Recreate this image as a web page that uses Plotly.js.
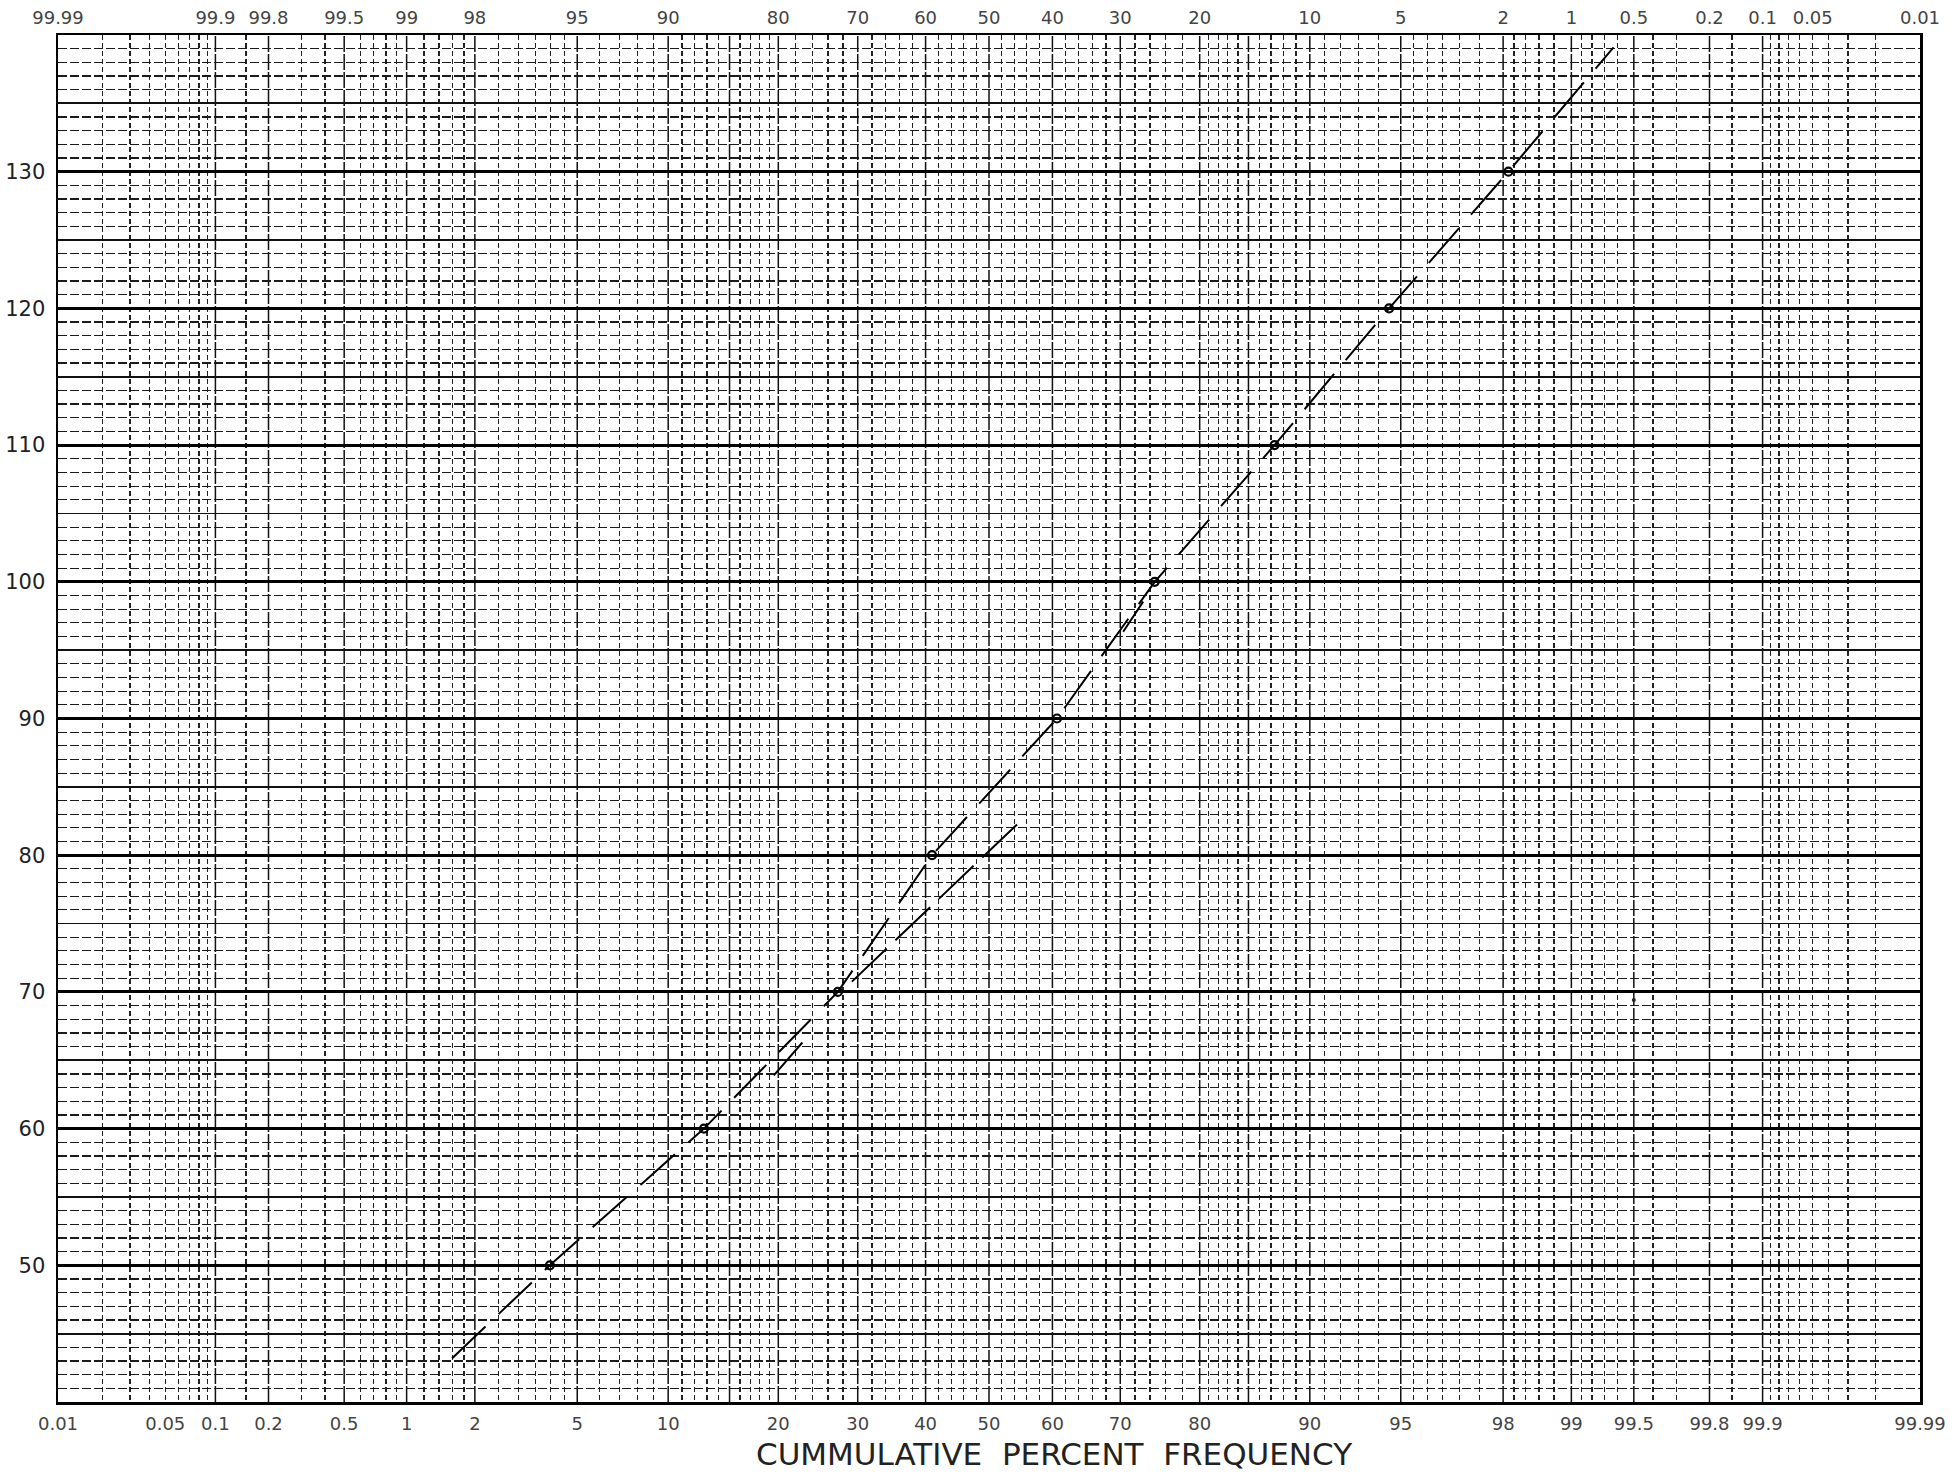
<!DOCTYPE html>
<html>
<head>
<meta charset="utf-8">
<script src="https://cdn.plot.ly/plotly-3.0.1.min.js"></script>
<style>html,body{margin:0;padding:0;background:#fff;}#chart{width:1956px;height:1478px;}</style>
</head>
<body>
<div id="chart"></div>
<script>
// ---- data (cumulative percent frequency vs value) ----
const pointPct = [3.97, 12.74, 27.3, 41.0, 60.7, 74.6, 87.3, 94.5, 98.1];
const pointVal = [50, 60, 70, 80, 90, 100, 110, 120, 130];

// hand-drawn dashed line through the points
const fitPct = [1.6, 3.97, 12.74, 27.3, 41.0, 60.7, 74.6, 87.3, 94.5, 98.1, 99.37];
const fitVal = [43.2, 50, 60, 70, 80, 90, 100, 110, 120, 130, 139.1];

// second (parallel) pencil line between 70 and 83
const fit2Pct = [29.2, 55.7];
const fit2Val = [70.75, 82.8];

// short extra pencil strokes
const strokeAPct = [19.5, 22.8];
const strokeAVal = [63.9, 66.3];
const strokeBPct = [70.4, 73.1];
const strokeBVal = [96.35, 98.55];

// stray dot
const dotPct = [99.5];
const dotVal = [69.4];

// ---- axis ticks ----
const bottomTickPct = [0.01, 0.05, 0.1, 0.2, 0.5, 1, 2, 5, 10, 20, 30, 40, 50, 60, 70, 80, 90, 95, 98, 99, 99.5, 99.8, 99.9, 99.99];
const bottomTickText = ['0.01', '0.05', '0.1', '0.2', '0.5', '1', '2', '5', '10', '20', '30', '40', '50', '60', '70', '80', '90', '95', '98', '99', '99.5', '99.8', '99.9', '99.99'];
const topTickPct = [0.01, 0.1, 0.2, 0.5, 1, 2, 5, 10, 20, 30, 40, 50, 60, 70, 80, 90, 95, 98, 99, 99.5, 99.8, 99.9, 99.95, 99.99];
const topTickText = ['99.99', '99.9', '99.8', '99.5', '99', '98', '95', '90', '80', '70', '60', '50', '40', '30', '20', '10', '5', '2', '1', '0.5', '0.2', '0.1', '0.05', '0.01'];

const yTickVals = [50, 60, 70, 80, 90, 100, 110, 120, 130];
const yTickText = ['50', '60', '70', '80', '90', '100', '110', '120', '130'];
const yMidVals = [45, 55, 65, 75, 85, 95, 105, 115, 125, 135];
const yRange = [40, 140];

// probability-paper rulings (lower half; upper half mirrored)
const heavyPctLow = [0.1, 0.2, 0.5, 1, 2, 5, 10, 15, 20, 30, 40, 50];
const lightPctLow = [0.02, 0.03, 0.04, 0.05, 0.06, 0.07, 0.08, 0.09, 0.15, 0.3, 0.4, 0.6, 0.7, 0.8, 0.9,
  1.2, 1.4, 1.6, 1.8, 2.5, 3, 3.5, 4, 4.5, 6, 7, 8, 9, 11, 12, 13, 14, 16, 17, 18, 19,
  22, 24, 26, 28, 32, 34, 36, 38, 42, 44, 46, 48];

// ---- normal probability scale ----
function probit(p) {
  const a=[-3.969683028665376e+01,2.209460984245205e+02,-2.759285104469687e+02,1.383577518672690e+02,-3.066479806614716e+01,2.506628277459239e+00];
  const b=[-5.447609879822406e+01,1.615858368580409e+02,-1.556989798598866e+02,6.680131188771972e+01,-1.328068155288572e+01];
  const c=[-7.784894002430293e-03,-3.223964580411365e-01,-2.400758277161838e+00,-2.549732539343734e+00,4.374664141464968e+00,2.938163982698783e+00];
  const d=[7.784695709041462e-03,3.224671290700398e-01,2.445134137142996e+00,3.754408661907416e+00];
  const pl=0.02425, ph=1-pl; let q, r;
  if (p < pl) { q=Math.sqrt(-2*Math.log(p)); return (((((c[0]*q+c[1])*q+c[2])*q+c[3])*q+c[4])*q+c[5])/((((d[0]*q+d[1])*q+d[2])*q+d[3])*q+1); }
  if (p <= ph) { q=p-0.5; r=q*q; return (((((a[0]*r+a[1])*r+a[2])*r+a[3])*r+a[4])*r+a[5])*q/(((((b[0]*r+b[1])*r+b[2])*r+b[3])*r+b[4])*r+1); }
  q=Math.sqrt(-2*Math.log(1-p)); return -(((((c[0]*q+c[1])*q+c[2])*q+c[3])*q+c[4])*q+c[5])/((((d[0]*q+d[1])*q+d[2])*q+d[3])*q+1);
}
const Z = pct => probit(pct / 100);
const mirror = arr => arr.concat(arr.filter(p => p !== 50).map(p => 100 - p));

const xRange = [Z(0.01), Z(99.99)];
const heavyZ = mirror(heavyPctLow).map(Z);
const lightZ = mirror(lightPctLow).map(Z);

const tickFont = {family: 'DejaVu Sans, Liberation Sans, sans-serif', size: 18, color: '#444'};

const traces = [
  {x: fitPct.map(Z), y: fitVal, mode: 'lines', xaxis: 'x', yaxis: 'y',
   line: {color: '#000', width: 2, dash: '46px,18px'}, hoverinfo: 'skip', showlegend: false},
  {x: fit2Pct.map(Z), y: fit2Val, mode: 'lines', xaxis: 'x', yaxis: 'y',
   line: {color: '#000', width: 2, dash: '48px,12px'}, hoverinfo: 'skip', showlegend: false},
  {x: strokeAPct.map(Z), y: strokeAVal, mode: 'lines', line: {color: '#000', width: 2}, hoverinfo: 'skip', showlegend: false},
  {x: strokeBPct.map(Z), y: strokeBVal, mode: 'lines', line: {color: '#000', width: 2}, hoverinfo: 'skip', showlegend: false},
  {x: pointPct.map(Z), y: pointVal, mode: 'markers', xaxis: 'x', yaxis: 'y',
   marker: {symbol: 'circle-open', size: 8, color: '#000', line: {width: 2.2, color: '#000'}},
   text: pointPct.map(p => p + '%'), showlegend: false},
  {x: dotPct.map(Z), y: dotVal, mode: 'markers', marker: {size: 4, color: '#222'}, hoverinfo: 'skip', showlegend: false},
  // carriers for the overlay axes (invisible)
  {x: pointPct.map(Z), y: pointVal, mode: 'markers', xaxis: 'x2', yaxis: 'y',
   marker: {opacity: 0}, hoverinfo: 'skip', showlegend: false},
  {x: pointPct.map(Z), y: pointVal, mode: 'markers', xaxis: 'x', yaxis: 'y2',
   marker: {opacity: 0}, hoverinfo: 'skip', showlegend: false}
];

const heavyShapes = heavyZ.map(z => ({
  type: 'line', xref: 'x', yref: 'paper', x0: z, x1: z, y0: 0, y1: 1,
  layer: 'between', line: {color: '#111', width: 1.5, dash: '16px,2px'}
}));

const layout = {
  width: 1956, height: 1478,
  margin: {l: 58, r: 36, t: 35, b: 76, pad: 0},
  paper_bgcolor: '#fff', plot_bgcolor: '#fff',
  showlegend: false,
  xaxis: {
    range: xRange, tickmode: 'array',
    tickvals: bottomTickPct.map(Z), ticktext: bottomTickText,
    ticks: '', ticklabelstandoff: 4, tickfont: tickFont,
    showgrid: false, zeroline: false,
    showline: true, linecolor: '#000', linewidth: 2.5, mirror: true,
    minor: {tickmode: 'array', tickvals: lightZ, ticks: '', showgrid: true,
            gridcolor: '#222', gridwidth: 1.2, griddash: '5px,3px'}
  },
  xaxis2: {
    overlaying: 'x', side: 'top', range: xRange, tickmode: 'array',
    tickvals: topTickPct.map(Z), ticktext: topTickText,
    ticks: '', ticklabelstandoff: 6, tickfont: tickFont,
    showgrid: false, zeroline: false, showline: false
  },
  yaxis: {
    range: yRange, tickmode: 'array', tickvals: yTickVals, ticktext: yTickText,
    ticks: '', ticklabelstandoff: 6,
    tickfont: {family: 'DejaVu Sans, sans-serif', size: 21, color: '#222'},
    showgrid: true, gridcolor: '#000', gridwidth: 3, zeroline: false,
    showline: true, linecolor: '#000', linewidth: 2.5, mirror: true,
    minor: {tickmode: 'linear', tick0: 40, dtick: 1, ticks: '', showgrid: true,
            gridcolor: '#1a1a1a', gridwidth: 1.2, griddash: '9px,3px'}
  },
  yaxis2: {
    overlaying: 'y', range: yRange, tickmode: 'array', tickvals: yMidVals,
    showticklabels: false, ticks: '', zeroline: false, showline: false,
    showgrid: true, gridcolor: '#111', gridwidth: 1.8
  },
  shapes: heavyShapes,
  annotations: [{
    text: 'CUMMULATIVE  PERCENT  FREQUENCY', xref: 'paper', yref: 'paper',
    x: 0.535, y: 0, yshift: -52, xanchor: 'center', yanchor: 'middle', showarrow: false,
    font: {family: 'DejaVu Sans, sans-serif', size: 31, color: '#222'}
  }]
};

Plotly.newPlot('chart', traces, layout, {displayModeBar: false, staticPlot: true});
</script>
</body>
</html>
